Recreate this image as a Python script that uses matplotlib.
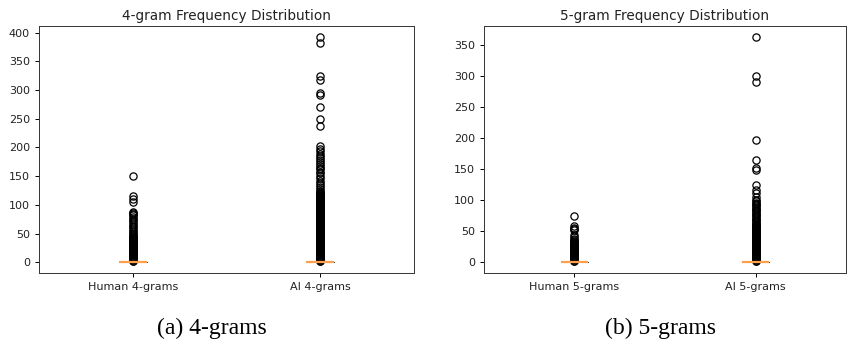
import matplotlib
matplotlib.use("Agg")
import matplotlib.pyplot as plt

# box stats: nearly all n-grams occur once, so the box collapses at 1
box_med = 1
box_q1 = 1
box_q3 = 1

labels_4 = ["Human 4-grams", "AI 4-grams"]
labels_5 = ["Human 5-grams", "AI 5-grams"]

# outliers
human4_fliers = [2, 3, 4, 5, 6, 7, 8, 9, 10, 11, 12, 13, 14, 15, 16, 17, 18, 19, 20,
                 21, 22, 23, 24, 25, 26, 27, 28, 29, 30, 31, 32, 33, 34, 35, 36, 37,
                 38, 39, 40, 41, 42, 43, 44, 45, 47, 50, 53, 55, 58, 61, 64, 67, 70,
                 73, 76, 79, 82, 84, 86, 87, 105, 110, 116, 150]
ai4_fliers = [2, 3, 4, 5, 6, 7, 8, 9, 10, 11, 12, 13, 14, 15, 16, 17, 18, 19, 20,
              21, 22, 23, 24, 25, 26, 27, 28, 29, 30, 31, 32, 33, 34, 35, 36, 37, 38,
              39, 40, 41, 42, 43, 44, 45, 46, 47, 48, 49, 50, 51, 52, 53, 54, 55, 56,
              57, 58, 59, 60, 61, 62, 63, 64, 65, 66, 67, 68, 69, 70, 71, 72, 73, 74,
              75, 76, 77, 78, 79, 80, 81, 82, 83, 84, 85, 86, 87, 88, 89, 90, 91, 92,
              93, 94, 95, 96, 97, 98, 99, 100, 101, 102, 103, 104, 105, 106, 107, 108,
              109, 110, 111, 112, 113, 114, 115, 116, 117, 118, 119, 120, 121, 122,
              124, 127, 131, 135, 138, 142, 147, 150, 155, 158, 162, 165, 168, 171,
              175, 178, 182, 185, 188, 193, 197, 203, 237, 249, 270, 291, 295, 317,
              324, 382, 392]
human5_fliers = [2, 3, 4, 5, 6, 7, 8, 9, 10, 11, 12, 13, 14, 15, 16, 17, 18, 19, 20,
                 21, 22, 23, 24, 25, 26, 27, 28, 29, 30, 31, 32, 34, 36, 38, 41, 44,
                 52, 54, 56, 58, 74]
ai5_fliers = [2, 3, 4, 5, 6, 7, 8, 9, 10, 11, 12, 13, 14, 15, 16, 17, 18, 19, 20,
              21, 22, 23, 24, 25, 26, 27, 28, 29, 30, 31, 32, 33, 34, 35, 36, 37, 38,
              39, 40, 41, 42, 43, 44, 45, 46, 47, 48, 49, 50, 51, 52, 53, 54, 55, 56,
              57, 58, 59, 60, 61, 62, 64, 66, 68, 70, 72, 74, 76, 78, 80, 82, 84, 86,
              88, 90, 92, 94, 96, 98, 100, 105, 111, 116, 124, 149, 151, 164, 196,
              290, 299, 362]

caption_a = "(a) 4-grams"
caption_b = "(b) 5-grams"


def make_stats(labels, flier_lists):
    stats = []
    for lab, fl in zip(labels, flier_lists):
        stats.append(dict(label=lab, med=box_med, q1=box_q1, q3=box_q3,
                          whislo=box_q1, whishi=box_q3, fliers=fl))
    return stats


fig = plt.figure(figsize=(8.52, 3.46), dpi=100)
ax1 = fig.add_axes([0.0458, 0.211, 0.440, 0.714])
ax2 = fig.add_axes([0.568, 0.211, 0.425, 0.714])

flierprops = dict(marker="o", markersize=5.2, markerfacecolor="none",
                  markeredgecolor="black", markeredgewidth=0.9)

for ax, labels, fls, title in [
        (ax1, labels_4, [human4_fliers, ai4_fliers], "4-gram Frequency Distribution"),
        (ax2, labels_5, [human5_fliers, ai5_fliers], "5-gram Frequency Distribution")]:
    ax.bxp(make_stats(labels, fls), flierprops=flierprops,
           boxprops=dict(linewidth=0.4), whiskerprops=dict(linewidth=0.4),
           capprops=dict(linewidth=0.4),
           medianprops=dict(color="#ff9f4a", linewidth=1.6, zorder=3))
    ax.set_title(title, fontsize=9.8, pad=4, color="#222222")
    ax.tick_params(labelsize=8, length=3, width=0.7, labelcolor="#222222")
    for s in ax.spines.values():
        s.set_linewidth(0.7)
        s.set_color("#333333")

fig.text(0.249, 0.052, caption_a, ha="center", va="center",
         family="Liberation Serif", fontsize=17)
fig.text(0.775, 0.052, caption_b, ha="center", va="center",
         family="Liberation Serif", fontsize=17)

fig.savefig("out.png", dpi=100)
